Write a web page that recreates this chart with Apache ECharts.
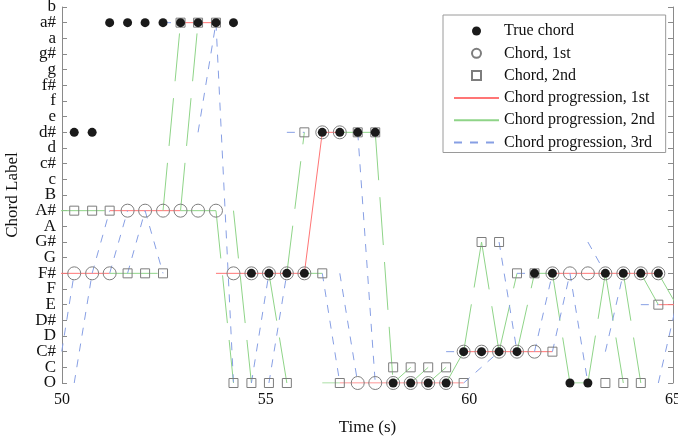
<!DOCTYPE html>
<html>
<head>
<meta charset="utf-8">
<script src="https://cdn.jsdelivr.net/npm/echarts@6/dist/echarts.min.js"></script>
<style>
  html, body { margin: 0; padding: 0; background: #fff; }
  #chart { width: 678px; height: 443px; }
</style>
</head>
<body>
<div id="chart"></div>
<script>
// chord labels, from the bottom of the axis to the top
const chordLabels = ['O', 'C', 'C#', 'D', 'D#', 'E', 'F', 'F#', 'G', 'G#', 'A', 'A#', 'B',
                     'c', 'c#', 'd', 'd#', 'e', 'f', 'f#', 'g', 'g#', 'a', 'a#', 'b'];

// analysis frame times (s); first and last frame fall just outside the axis
const frameTimes = [49.87, 50.30, 50.74, 51.17, 51.61, 52.04, 52.48, 52.91, 53.34, 53.78,
                    54.21, 54.65, 55.08, 55.52, 55.95, 56.39, 56.82, 57.26, 57.69, 58.13,
                    58.56, 58.99, 59.43, 59.86, 60.30, 60.73, 61.17, 61.60, 62.04, 62.47,
                    62.91, 63.34, 63.78, 64.21, 64.64, 65.08];

// one entry per frame
const trueChord = [null, 'd#', 'd#', 'a#', 'a#', 'a#', 'a#', 'a#', 'a#', 'a#', 'a#',
                   'F#', 'F#', 'F#', 'F#', 'd#', 'd#', 'd#', 'd#', 'O', 'O', 'O', 'O',
                   'C#', 'C#', 'C#', 'C#', 'F#', 'F#', 'O', 'O', 'F#', 'F#', 'F#', 'F#', null];
const chord1st = [null, 'F#', 'F#', 'F#', 'A#', 'A#', 'A#', 'A#', 'A#', 'A#', 'F#',
                  'F#', 'F#', 'F#', 'F#', 'd#', 'd#', 'O', 'O', 'O', 'O', 'O', 'O',
                  'C#', 'C#', 'C#', 'C#', 'C#', 'F#', 'F#', 'F#', 'F#', 'F#', 'F#', 'F#', null];
const chord2nd = [null, 'A#', 'A#', 'A#', 'F#', 'F#', 'F#', 'a#', 'a#', 'a#', 'O',
                  'O', 'O', 'O', 'd#', 'F#', 'O', 'd#', 'd#', 'C', 'C', 'C', 'C',
                  'O', 'G#', 'G#', 'F#', 'F#', 'C#', null, null, 'O', 'O', 'O', 'E', null];

// progression segments: [from frame, from chord, to frame, to chord]
const progression1st = [
  [0, 'F#', 3, 'F#'], [3, 'A#', 7, 'A#'], [7, 'a#', 9, 'a#'], [9, 'F#', 14, 'F#'],
  [14, 'F#', 15, 'd#'], [15, 'd#', 16, 'd#'], [16, 'O', 23, 'O'], [23, 'C#', 28, 'C#'],
  [28, 'F#', 34, 'F#'], [34, 'E', 35, 'E']
];
const progression2nd = [
  [0, 'A#', 3, 'A#'], [3, 'F#', 6, 'F#'], [6, 'A#', 7, 'a#'], [7, 'A#', 8, 'a#'],
  [7, 'A#', 9, 'A#'], [9, 'A#', 10, 'O'], [10, 'A#', 11, 'O'], [12, 'F#', 13, 'O'],
  [13, 'F#', 14, 'd#'], [14, 'F#', 15, 'F#'], [15, 'O', 16, 'O'], [16, 'd#', 18, 'd#'],
  [18, 'd#', 19, 'O'], [19, 'O', 20, 'C'], [20, 'O', 21, 'C'], [21, 'O', 22, 'C'],
  [22, 'O', 23, 'C#'], [23, 'C#', 24, 'G#'], [24, 'G#', 25, 'C#'], [25, 'C#', 26, 'F#'],
  [26, 'C#', 27, 'F#'], [27, 'F#', 28, 'F#'], [28, 'F#', 29, 'O'], [29, 'O', 30, 'O'],
  [30, 'O', 31, 'F#'], [31, 'F#', 32, 'O'], [32, 'F#', 33, 'O'], [33, 'F#', 34, 'E'],
  [34, 'F#', 35, 'E']
];
const progression3rd = [
  [0, 'O', 1, 'F#'], [1, 'O', 2, 'F#'], [2, 'F#', 3, 'A#'], [3, 'F#', 4, 'A#'],
  [4, 'F#', 5, 'A#'], [5, 'A#', 6, 'F#'], [6, 'a#', 7, 'a#'], [8, 'd#', 9, 'a#'],
  [9, 'a#', 10, 'O'], [11, 'O', 12, 'F#'], [12, 'O', 13, 'F#'], [13, 'd#', 14, 'd#'],
  [15, 'F#', 16, 'O'], [16, 'F#', 17, 'O'], [17, 'd#', 18, 'O'], [22, 'C#', 23, 'C#'],
  [23, 'O', 25, 'C#'], [25, 'G#', 26, 'C#'], [26, 'F#', 27, 'F#'], [27, 'C#', 28, 'F#'],
  [28, 'C#', 29, 'F#'], [29, 'F#', 30, 'O'], [30, 'G#', 31, 'F#'], [31, 'C#', 32, 'F#'],
  [33, 'E', 34, 'E'], [34, 'O', 35, 'E']
];

const serif = 'Liberation Serif';
const axisGray = '#8a8a8a';
const markerGray = '#7d7d7d';

function framePoints(chords) {
  const pts = [];
  chords.forEach((c, i) => {
    if (c !== null) pts.push([frameTimes[i], c]);
  });
  return pts;
}

// segments joined into one polyline, broken by empty points
function segmentPoints(segs) {
  const pts = [];
  segs.forEach(s => {
    pts.push([frameTimes[s[0]], s[1]]);
    pts.push([frameTimes[s[2]], s[3]]);
    pts.push([frameTimes[s[2]], '-']);
  });
  return pts;
}

function progressionSeries(name, segs, color, dash) {
  return {
    name: name,
    type: 'line',
    data: segmentPoints(segs),
    symbol: 'none',
    showSymbol: false,
    connectNulls: false,
    silent: true,
    z: 2,
    itemStyle: { color: color },
    lineStyle: { color: color, width: 1, type: dash }
  };
}

const chart = echarts.init(document.getElementById('chart'));

chart.setOption({
  animation: false,
  grid: { left: 62, right: 5, top: 7, bottom: 60, outerBoundsMode: 'none' },
  legend: {
    orient: 'vertical',
    left: 443,
    top: 15,
    padding: [8, 11, 2, 10],
    itemWidth: 45,
    itemHeight: 9,
    itemGap: 6.3,
    borderColor: '#9a9a9a',
    borderWidth: 1,
    borderRadius: 0,
    backgroundColor: '#fff',
    symbolKeepAspect: true,
    textStyle: { fontFamily: serif, fontSize: 16, color: '#111' },
    data: [
      { name: 'True chord' },
      { name: 'Chord, 1st' },
      { name: 'Chord, 2nd', icon: 'path://M0,0H10V10H0Z' },
      { name: 'Chord progression, 1st', itemStyle: { opacity: 0 } },
      { name: 'Chord progression, 2nd', itemStyle: { opacity: 0 } },
      { name: 'Chord progression, 3rd', itemStyle: { opacity: 0 } }
    ]
  },
  xAxis: [{
    type: 'value',
    min: 50,
    max: 65,
    interval: 5,
    name: 'Time (s)',
    nameLocation: 'middle',
    nameGap: 36,
    nameTextStyle: { fontFamily: serif, fontSize: 17, color: '#111' },
    axisLine: { onZero: false, lineStyle: { color: axisGray } },
    axisTick: { inside: true, length: 5, lineStyle: { color: axisGray } },
    axisLabel: { fontFamily: serif, fontSize: 16, color: '#111', margin: 9 },
    splitLine: { show: false }
  }, {
    type: 'value',
    position: 'top',
    min: 50,
    max: 65,
    interval: 5,
    axisLine: { onZero: false, lineStyle: { color: axisGray } },
    axisTick: { inside: true, length: 5, lineStyle: { color: axisGray } },
    axisLabel: { show: false },
    splitLine: { show: false }
  }],
  yAxis: [{
    type: 'category',
    data: chordLabels,
    boundaryGap: false,
    name: 'Chord Label',
    nameLocation: 'middle',
    nameGap: 41,
    nameTextStyle: { fontFamily: serif, fontSize: 17, color: '#111' },
    axisLine: { show: true, onZero: false, lineStyle: { color: axisGray } },
    axisTick: { show: true, inside: true, length: 5, interval: 0, lineStyle: { color: axisGray } },
    axisLabel: { fontFamily: serif, fontSize: 17, color: '#111', margin: 6, interval: 0 },
    splitLine: { show: false }
  }, {
    type: 'category',
    data: chordLabels,
    boundaryGap: false,
    position: 'right',
    axisLine: { show: true, onZero: false, lineStyle: { color: axisGray } },
    axisTick: { show: true, inside: true, length: 5, interval: 0, lineStyle: { color: axisGray } },
    axisLabel: { show: false },
    splitLine: { show: false }
  }],
  series: [
    progressionSeries('Chord progression, 1st', progression1st, '#ff7575', 'solid'),
    progressionSeries('Chord progression, 2nd', progression2nd, '#8fd488', [48, 17]),
    progressionSeries('Chord progression, 3rd', progression3rd, '#879fe4', [8, 8]),
    {
      name: 'Chord, 2nd',
      type: 'scatter',
      data: framePoints(chord2nd),
      symbol: 'rect',
      symbolSize: 9,
      silent: true,
      z: 3,
      itemStyle: { color: 'rgba(255,255,255,0)', borderColor: markerGray, borderWidth: 1, opacity: 1 }
    },
    {
      name: 'Chord, 1st',
      type: 'scatter',
      data: framePoints(chord1st),
      symbol: 'circle',
      symbolSize: 13,
      silent: true,
      z: 3,
      itemStyle: { color: 'rgba(255,255,255,0)', borderColor: markerGray, borderWidth: 1, opacity: 1 }
    },
    {
      name: 'True chord',
      type: 'scatter',
      data: framePoints(trueChord),
      symbol: 'circle',
      symbolSize: 9,
      silent: true,
      z: 4,
      itemStyle: { color: '#1a1a1a', opacity: 1 }
    }
  ]
});
</script>
</body>
</html>
